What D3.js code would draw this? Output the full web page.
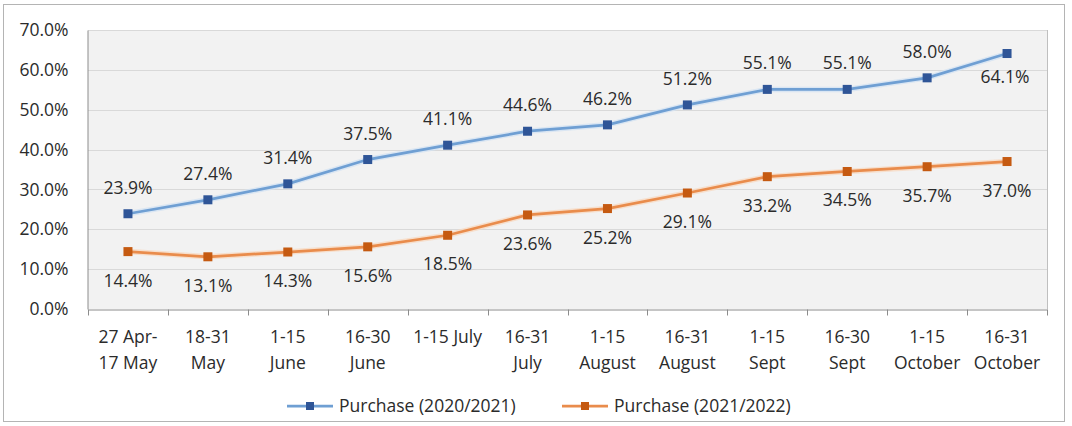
<!DOCTYPE html>
<html>
<head>
<meta charset="utf-8">
<script src="https://cdn.jsdelivr.net/npm/d3@7/dist/d3.min.js"></script>
<style>
  html, body { margin: 0; padding: 0; background: #fff; }
  svg { display: block; }
  text { font-family: "Open Sans", "Noto Sans", sans-serif; fill: #2b2b2b; }
</style>
</head>
<body>
<svg id="chart" width="1072" height="426"></svg>
<script>
// Period categories (two-line labels split on "|")
const categories = [
  "27 Apr-|17 May", "18-31|May", "1-15|June", "16-30|June", "1-15 July",
  "16-31|July", "1-15|August", "16-31|August", "1-15|Sept", "16-30|Sept",
  "1-15|October", "16-31|October"
];
const purchase2021 = [23.9, 27.4, 31.4, 37.5, 41.1, 44.6, 46.2, 51.2, 55.1, 55.1, 58.0, 64.1];
const purchase2022 = [14.4, 13.1, 14.3, 15.6, 18.5, 23.6, 25.2, 29.1, 33.2, 34.5, 35.7, 37.0];
const yTicks = [0, 10, 20, 30, 40, 50, 60, 70];
const seriesNames = ["Purchase (2020/2021)", "Purchase (2021/2022)"];

const FS = "17.5px";
const svg = d3.select("#chart");
const plot = { left: 88, top: 30, right: 1047, bottom: 309 };

// outer chart frame
svg.append("rect")
  .attr("x", 3.5).attr("y", 4.5).attr("width", 1061).attr("height", 417)
  .attr("fill", "#fff").attr("stroke", "#b4b4b4").attr("stroke-width", 1);

const x = d3.scaleBand().domain(categories).range([plot.left, plot.right]).padding(0);
const y = d3.scaleLinear().domain([0, 70]).range([plot.bottom, plot.top]);
const cx = d => x(d) + x.bandwidth() / 2;

// plot background
svg.append("rect")
  .attr("x", plot.left).attr("y", plot.top)
  .attr("width", plot.right - plot.left).attr("height", plot.bottom - plot.top)
  .attr("fill", "#f2f2f2");

// gridlines
svg.append("g").selectAll("line").data(yTicks.filter(t => t > 0)).join("line")
  .attr("x1", plot.left).attr("x2", plot.right)
  .attr("y1", d => Math.round(y(d)) + 0.5).attr("y2", d => Math.round(y(d)) + 0.5)
  .attr("stroke", "#d9d9d9").attr("stroke-width", 1);

// plot border on the right
svg.append("line").attr("x1", plot.right + 0.5).attr("x2", plot.right + 0.5)
  .attr("y1", plot.top).attr("y2", plot.bottom).attr("stroke", "#bfbfbf");

// y axis
const yAxis = svg.append("g")
  .attr("transform", `translate(${plot.left - 0.5},0)`)
  .call(d3.axisLeft(y).tickValues(yTicks).tickSize(0).tickPadding(19)
    .tickFormat(d => d.toFixed(1) + "%"));
yAxis.select(".domain").attr("stroke", "#8c8c8c");
yAxis.selectAll("text").style("font-size", FS)
  .style("font-family", "\"Open Sans\", sans-serif").attr("fill", "#2b2b2b");

// x axis
const xAxis = svg.append("g")
  .attr("transform", `translate(0,${plot.bottom + 0.5})`)
  .call(d3.axisBottom(x).tickSize(0).tickFormat(""));
xAxis.select(".domain").attr("stroke", "#8c8c8c");
const bounds = categories.map(c => x(c)).concat([plot.right]);
xAxis.append("g").selectAll("line").data(bounds).join("line")
  .attr("x1", d => Math.round(d) + 0.5).attr("x2", d => Math.round(d) + 0.5)
  .attr("y1", 0).attr("y2", 6).attr("stroke", "#8c8c8c");

const catLabels = svg.append("g");
categories.forEach(c => {
  const lines = c.split("|");
  const t = catLabels.append("text")
    .attr("x", cx(c)).attr("y", 343)
    .attr("text-anchor", "middle").style("font-size", FS);
  lines.forEach((ln, i) => {
    t.append("tspan").attr("x", cx(c)).attr("dy", i === 0 ? 0 : 26).text(ln);
  });
});

// series
const series = [
  { name: seriesNames[0], values: purchase2021, line: "#6f9fd3", marker: "#2f5597", halo: "#d3e2f2", labelPos: i => (i === 11 ? 29 : -20) },
  { name: seriesNames[1], values: purchase2022, line: "#e98c4c", marker: "#c55a11", halo: "#f8d9c2", labelPos: () => 35 }
];

const lineGen = d3.line().x((d, i) => cx(categories[i])).y(d => y(d));

series.forEach(s => {
  const g = svg.append("g");
  g.append("path").datum(s.values).attr("d", lineGen)
    .attr("fill", "none").attr("stroke", s.halo).attr("stroke-width", 5.5).attr("stroke-opacity", 0.8);
  g.append("path").datum(s.values).attr("d", lineGen)
    .attr("fill", "none").attr("stroke", s.line).attr("stroke-width", 2.75);
  g.selectAll("rect").data(s.values).join("rect")
    .attr("x", (d, i) => cx(categories[i]) - 4.5).attr("y", d => y(d) - 4.5)
    .attr("width", 9).attr("height", 9).attr("fill", s.marker);
  g.selectAll("text").data(s.values).join("text")
    .attr("x", (d, i) => cx(categories[i]) + (i === 11 && s === series[0] ? -2 : 0))
    .attr("y", (d, i) => y(d) + s.labelPos(i))
    .attr("text-anchor", "middle").style("font-size", FS)
    .text(d => d.toFixed(1) + "%");
});

// legend
const legend = svg.append("g");
const legendItems = [
  { x: 287, s: series[0] },
  { x: 562, s: series[1] }
];
legendItems.forEach(({ x: lx, s }) => {
  const ly = 406;
  legend.append("line").attr("x1", lx).attr("x2", lx + 46).attr("y1", ly).attr("y2", ly)
    .attr("stroke", s.line).attr("stroke-width", 2.75);
  legend.append("rect").attr("x", lx + 23 - 4).attr("y", ly - 4).attr("width", 8).attr("height", 8)
    .attr("fill", s.marker);
  legend.append("text").attr("x", lx + 52).attr("y", ly + 6).style("font-size", FS).text(s.name);
});
</script>
</body>
</html>
